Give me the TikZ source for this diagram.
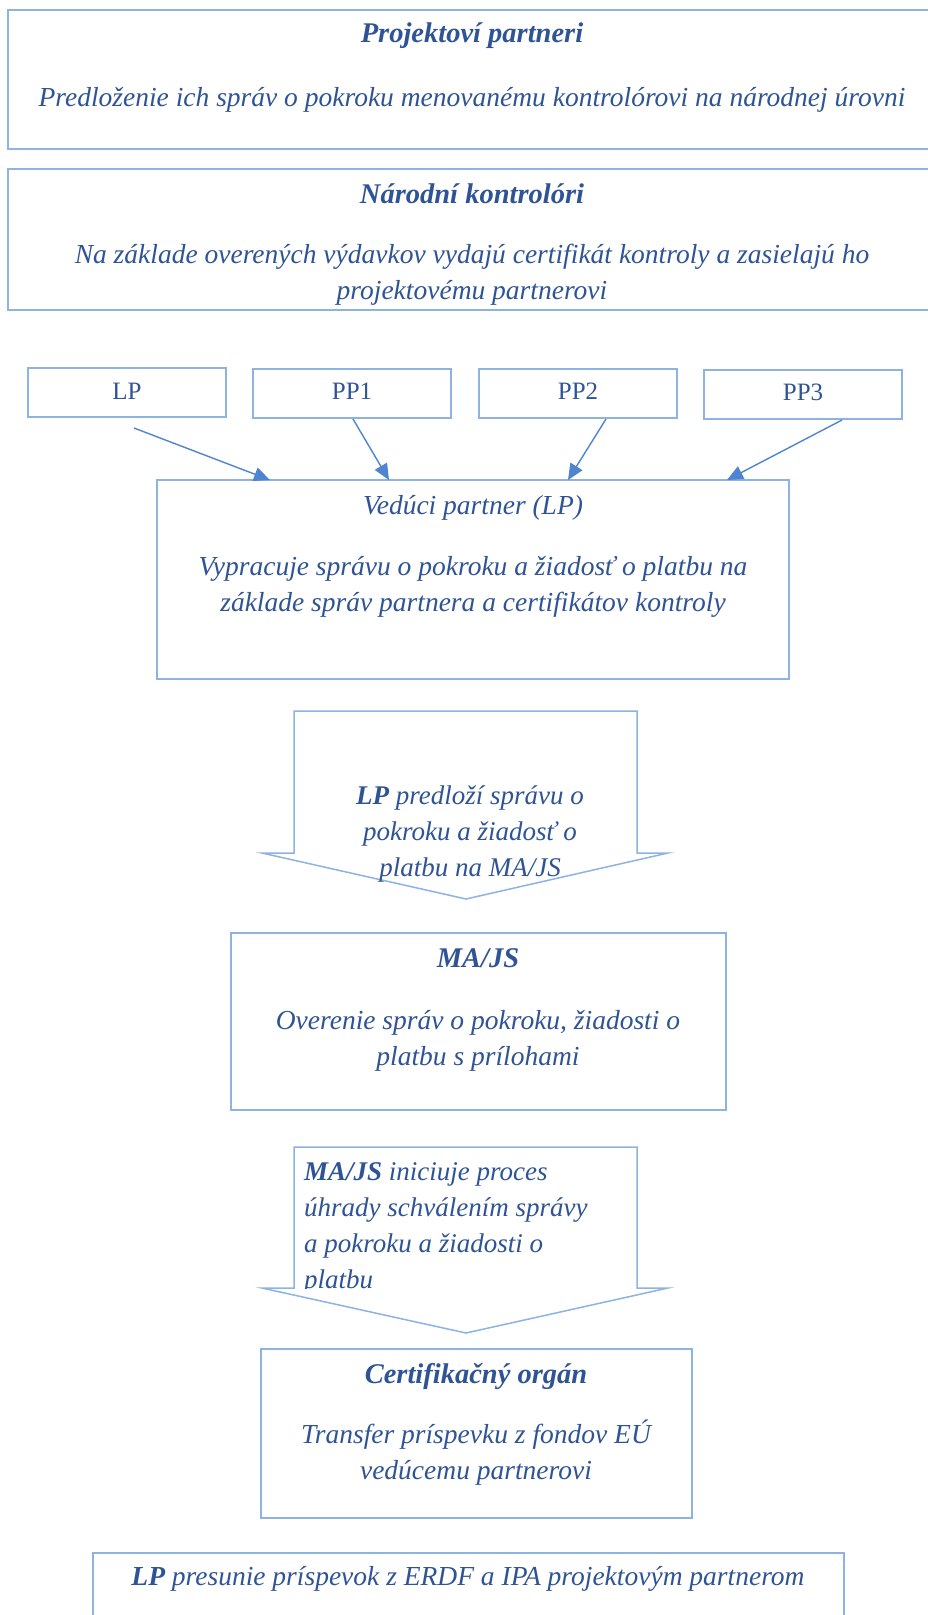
\documentclass[tikz,border=0pt]{standalone}
\usepackage{fontspec}
\setmainfont{Liberation Serif}
\usetikzlibrary{arrows.meta}
\definecolor{txt}{HTML}{2F5496}
\definecolor{bord}{HTML}{8DB3E2}
\definecolor{conn}{HTML}{4F84D0}
\tikzset{
  box/.style={draw=bord, line width=1.5pt, rectangle, inner sep=0pt},
  tx/.style={text=txt, font=\fontsize{27.5}{36}\selectfont\itshape, align=center, inner sep=0pt},
  ttl/.style={text=txt, font=\fontsize{28.5}{36}\selectfont\bfseries\itshape, inner sep=0pt},
  sm/.style={text=txt, font=\fontsize{25}{30}\selectfont, inner sep=0pt},
  atx/.style={text=txt, font=\fontsize{27}{36}\selectfont\itshape, inner sep=0pt},
  blk/.style={draw=bord, line width=1.5pt, fill=white},
  conn/.style={draw=conn, line width=1.4pt, -{Triangle[length=16pt,width=14pt]}}
}
\begin{document}
\begin{tikzpicture}[x=1pt,y=-1pt]
\useasboundingbox (0,0) rectangle (928,1615);
\clip (0,0) rectangle (928,1615);
\fill[white] (0,0) rectangle (928,1615);
% top boxes
\node[box, minimum width=932pt, minimum height=139pt] (b1) at (474,79.5) {};
\node[ttl] (b1t) at (472,36) {Projektoví partneri};
\node[tx] (b1b) at (472,100) {Predloženie ich správ o pokroku menovanému kontrolórovi na národnej úrovni};
\node[box, minimum width=932pt, minimum height=141pt] (b2) at (474,239.5) {};
\node[ttl] (b2t) at (472,194) {Národní kontrolóri};
\node[tx] (b2b) at (472,275) {Na základe overených výdavkov vydajú certifikát kontroly a zasielajú ho\\projektovému partnerovi};
% small boxes
\node[box, minimum width=198pt, minimum height=49pt] (lp) at (127,392.5) {};
\node[sm] at (127,391) {LP};
\node[box, minimum width=198pt, minimum height=49pt] (pp1) at (352,393.5) {};
\node[sm] at (352,391) {PP1};
\node[box, minimum width=198pt, minimum height=49pt] (pp2) at (578,393.5) {};
\node[sm] at (578,391) {PP2};
\node[box, minimum width=198pt, minimum height=49pt] (pp3) at (803,394.5) {};
\node[sm] at (803,392) {PP3};
% lead partner
\node[box, minimum width=632pt, minimum height=199pt] (vp) at (473,579.5) {};
\node[tx] (vpt) at (473,507.5) {Vedúci partner (LP)};
\node[tx] (vpb) at (473,587) {Vypracuje správu o pokroku a žiadosť o platbu na\\základe správ partnera a certifikátov kontroly};
% connectors
\coordinate (s0) at (134,428);
\coordinate (s1) at (353,419);
\coordinate (s2) at (606,419);
\coordinate (s3) at (842,420);
\coordinate (e0) at (270,480);
\coordinate (e1) at (389,480);
\coordinate (e2) at (568,480);
\coordinate (e3) at (727,480);
\draw[conn] (s0) -- (e0);
\draw[conn] (s1) -- (e1);
\draw[conn] (s2) -- (e2);
\draw[conn] (s3) -- (e3);
% block arrow 1
\draw[blk] (294,711) -- (637,711) -- (637,853) -- (668,853) -- (466,899) -- (262,853) -- (294,853) -- cycle;
\node[atx, align=center] (a1) at (470,834) {\textbf{LP} predloží správu o\\pokroku a žiadosť o\\platbu na MA/JS};
% MA/JS
\node[box, minimum width=495pt, minimum height=177pt] (ma) at (478.5,1021.5) {};
\node[ttl] (mat) at (478,958) {MA/JS};
\node[tx] (mab) at (478,1040.5) {Overenie správ o pokroku, žiadosti o\\platbu s prílohami};
% block arrow 2
\draw[blk] (294,1147) -- (637,1147) -- (637,1288) -- (668,1288) -- (466,1333) -- (262,1288) -- (294,1288) -- cycle;
\begin{scope}
\clip (294,1147) rectangle (637,1288);
\node[atx, align=left, anchor=west] (a2) at (304,1228.5) {\textbf{MA/JS} iniciuje proces\\úhrady schválením správy\\a pokroku a žiadosti o\\platbu};
\end{scope}
% certification
\node[box, minimum width=431pt, minimum height=169pt] (co) at (476.5,1433.5) {};
\node[ttl] (cot) at (476,1377) {Certifikačný orgán};
\node[tx] (cob) at (476,1453) {Transfer príspevku z fondov EÚ\\vedúcemu partnerovi};
% last
\node[box, minimum width=751pt, minimum height=87pt] (lb) at (468.5,1596.5) {};
\node[tx] (lbt) at (468,1579) {\textbf{LP} presunie príspevok z ERDF a IPA projektovým partnerom};
\end{tikzpicture}
\end{document}
